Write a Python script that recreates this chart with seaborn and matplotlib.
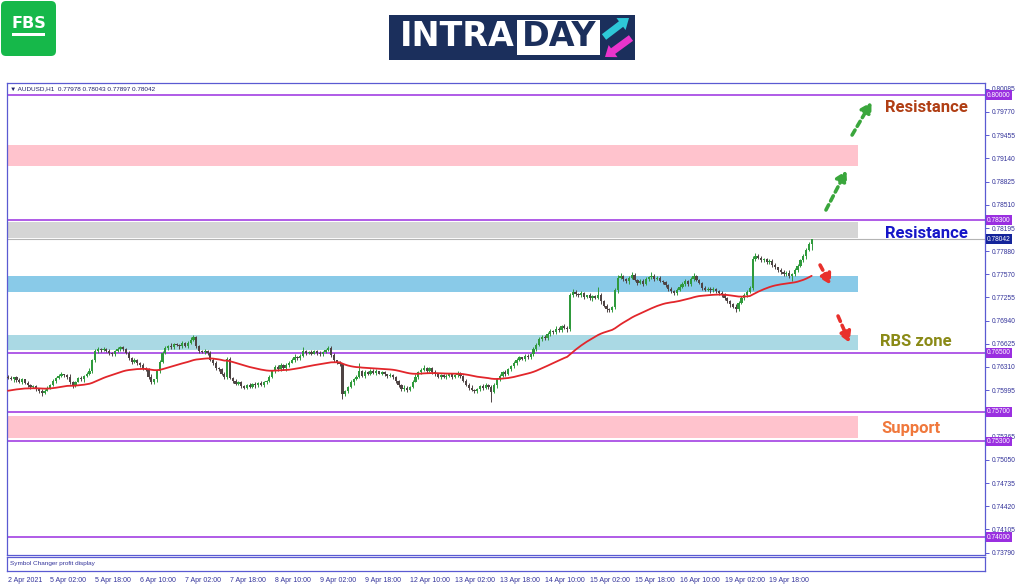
import numpy as np
import pandas as pd
import matplotlib
matplotlib.use('Agg')
import matplotlib.pyplot as plt
import matplotlib.transforms as mtransforms
from matplotlib.patches import FancyBboxPatch, Rectangle
import seaborn as sns

# AUDUSD H1 closes, in pips (x 0.0001)
closes = [
    7616, 7614, 7617, 7613, 7611, 7614, 7609, 7606, 7604, 7605,
    7601, 7598, 7596, 7599, 7603, 7607, 7612, 7616, 7619, 7621,
    7620, 7618, 7610, 7606, 7611, 7616, 7614, 7619, 7622, 7626,
    7640, 7652, 7656, 7654, 7655, 7653, 7650, 7648, 7652, 7655,
    7658, 7656, 7650, 7643, 7638, 7641, 7636, 7633, 7630, 7627,
    7618, 7610, 7614, 7625, 7638, 7650, 7657, 7660, 7658, 7662,
    7661, 7659, 7663, 7660, 7664, 7668, 7671, 7660, 7652, 7651,
    7653, 7650, 7641, 7636, 7630, 7628, 7622, 7617, 7642, 7616,
    7612, 7608, 7610, 7605, 7603, 7606, 7604, 7608, 7606, 7609,
    7607, 7610, 7612, 7618, 7625, 7631, 7628, 7634, 7629, 7633,
    7637, 7641, 7645, 7643, 7646, 7652, 7650, 7651, 7649, 7652,
    7650, 7648, 7651, 7654, 7657, 7647, 7640, 7637, 7635, 7594,
    7598, 7604, 7610, 7614, 7618, 7625, 7619, 7624, 7622, 7626,
    7623, 7625, 7622, 7624, 7621, 7619, 7620, 7617, 7612, 7606,
    7601, 7603, 7600, 7604, 7611, 7618, 7624, 7627, 7630, 7626,
    7629, 7624, 7621, 7618, 7620, 7617, 7619, 7621, 7618, 7620,
    7622, 7619, 7612, 7607, 7603, 7600, 7598, 7601, 7605, 7603,
    7607, 7604, 7597, 7606, 7614, 7619, 7624, 7622, 7628, 7632,
    7636, 7641, 7644, 7642, 7646, 7644, 7648, 7655, 7661, 7669,
    7672, 7670, 7676, 7680, 7678, 7683, 7681, 7686, 7684, 7682,
    7728, 7733, 7730, 7728, 7731, 7726, 7728, 7724, 7727, 7725,
    7729, 7720, 7714, 7710, 7708, 7712, 7735, 7752, 7754, 7750,
    7747, 7752, 7756, 7749, 7745, 7748, 7744, 7750, 7753, 7755,
    7751, 7752, 7748, 7746, 7742, 7737, 7734, 7731, 7736, 7740,
    7744, 7747, 7743, 7750, 7754, 7749, 7745, 7738, 7736, 7737,
    7735, 7737, 7734, 7732, 7728, 7725, 7720, 7716, 7713, 7710,
    7718, 7724, 7729, 7733, 7738, 7778, 7782, 7779, 7776, 7777,
    7773, 7775, 7770, 7766, 7762, 7760, 7757, 7759, 7755, 7757,
    7763, 7768, 7776, 7781, 7790, 7797.8, 7804.2,
]
# wick lengths above / below each body, in pips
wick_hi = [
    2, 3, 1, 2, 3, 2, 1, 3, 2, 1,  2, 1, 3, 2, 2, 1, 3, 2, 2, 3,
    1, 2, 3, 2, 1, 2, 3, 1, 2, 3,  2, 3, 2, 1, 3, 2, 2, 1, 2, 3,
    2, 2, 1, 3, 2, 2, 1, 2, 3, 1,  2, 3, 1, 2, 2, 3, 2, 1, 3, 2,
    2, 1, 3, 2, 2, 3, 3, 2, 1, 2,  3, 1, 2, 2, 3, 1, 2, 2, 2, 2,
    1, 3, 2, 2, 1, 2, 3, 1, 2, 2,  3, 2, 1, 2, 2, 3, 2, 2, 1, 3,
    2, 2, 3, 1, 2, 6, 2, 1, 3, 2,  2, 3, 1, 2, 2, 2, 3, 1, 2, 2,
    2, 1, 3, 2, 2, 11, 2, 3, 1, 2, 2, 3, 1, 2, 2, 1, 3, 2, 2, 1,
    2, 3, 2, 1, 2, 3, 2, 2, 3, 1,  2, 2, 3, 1, 2, 2, 3, 1, 2, 2,
    3, 2, 1, 2, 2, 3, 1, 2, 2, 3,  2, 1, 2, 3, 2, 2, 1, 3, 2, 2,
    3, 2, 2, 1, 3, 2, 2, 3, 2, 3,  2, 2, 3, 2, 1, 3, 2, 2, 3, 2,
    3, 4, 2, 2, 3, 2, 1, 3, 2, 2,  11, 2, 2, 3, 1, 2, 3, 4, 5, 2,
    2, 3, 4, 2, 2, 3, 2, 3, 2, 5,  2, 3, 2, 1, 2, 2, 3, 2, 2, 3,
    2, 3, 2, 3, 4, 2, 2, 1, 3, 2,  2, 3, 1, 2, 2, 3, 1, 2, 2, 3,
    2, 3, 2, 2, 3, 4, 3, 2, 3, 2,  2, 3, 2, 2, 1, 3, 2, 2, 3, 2,
    2, 3, 2, 3, 2, 3, 0.1,
]
wick_lo = [
    2, 1, 3, 2, 2, 3, 1, 2, 3, 2,  3, 2, 4, 2, 1, 2, 2, 3, 1, 2,
    2, 3, 2, 3, 2, 1, 2, 3, 2, 2,  3, 2, 2, 3, 1, 2, 3, 2, 2, 1,
    2, 3, 2, 2, 3, 1, 2, 2, 3, 2,  3, 2, 2, 3, 2, 1, 2, 3, 2, 2,
    1, 3, 2, 2, 3, 2, 2, 3, 2, 1,  2, 3, 2, 2, 3, 2, 2, 3, 2, 2,
    3, 2, 2, 3, 2, 2, 1, 2, 3, 2,  2, 3, 2, 1, 2, 2, 3, 2, 2, 3,
    2, 1, 3, 2, 2, 2, 3, 2, 2, 1,  3, 2, 2, 1, 2, 3, 2, 2, 3, 6,
    3, 2, 2, 3, 1, 2, 2, 3, 2, 2,  2, 3, 1, 2, 2, 3, 2, 2, 3, 2,
    3, 2, 3, 2, 2, 1, 3, 2, 2, 3,  2, 3, 2, 2, 3, 1, 2, 2, 3, 2,
    2, 3, 2, 2, 3, 2, 3, 2, 2, 3,  2, 3, 14, 2, 3, 2, 2, 3, 2, 2,
    2, 3, 2, 2, 3, 2, 2, 2, 3, 2,  3, 2, 2, 3, 2, 2, 3, 2, 2, 3,
    2, 2, 3, 2, 2, 3, 2, 2, 3, 2,  2, 3, 2, 4, 3, 2, 2, 3, 2, 3,
    2, 3, 2, 2, 3, 2, 3, 2, 2, 2,  3, 2, 2, 3, 2, 3, 2, 3, 2, 2,
    2, 3, 2, 2, 3, 2, 2, 3, 2, 2,  3, 2, 2, 3, 2, 3, 2, 3, 2, 4,
    3, 2, 2, 3, 2, 2, 3, 2, 2, 3,  2, 2, 3, 2, 2, 3, 2, 2, 3, 7,
    2, 3, 2, 2, 3, 2, 8.1,
]
first_open = 7618
ma_seed = 7598   # MA level at the left edge
ma_span = 50

tick_pos = [0, 15, 31, 47, 63, 79, 95, 111, 127, 143, 159, 175, 191, 207, 223, 239, 255, 271]
tick_labels = ['2 Apr 2021', '5 Apr 02:00', '5 Apr 18:00', '6 Apr 10:00', '7 Apr 02:00',
               '7 Apr 18:00', '8 Apr 10:00', '9 Apr 02:00', '9 Apr 18:00', '12 Apr 10:00',
               '13 Apr 02:00', '13 Apr 18:00', '14 Apr 10:00', '15 Apr 02:00', '15 Apr 18:00',
               '16 Apr 10:00', '19 Apr 02:00', '19 Apr 18:00']

price_ticks = [0.80085, 0.79770, 0.79455, 0.79140, 0.78825, 0.78510, 0.78195, 0.77880,
               0.77570, 0.77255, 0.76940, 0.76625, 0.76310, 0.75995, 0.75365, 0.75050,
               0.74735, 0.74420, 0.74105, 0.73790]
key_levels = [0.80000, 0.78300, 0.76500, 0.75700, 0.75300, 0.74000]
last_price = 0.78042

zone_low = [0.7904, 0.7806, 0.7733, 0.7654, 0.7534]
zone_high = [0.7932, 0.7827, 0.7754, 0.7675, 0.7564]
zone_colors = ['#ffc3cd', '#d5d5d5', '#89cae8', '#aad9e4', '#ffc3cd']
zone_end = 302.5

# OHLC frame
df = pd.DataFrame({'close': np.array(closes) / 1e4})
df['open'] = df['close'].shift(1).fillna(first_open / 1e4)
df['high'] = df[['open', 'close']].max(axis=1) + np.array(wick_hi) / 1e4
df['low'] = df[['open', 'close']].min(axis=1) - np.array(wick_lo) / 1e4
df['bar'] = np.arange(len(df))
seeded = pd.concat([pd.Series([ma_seed / 1e4]), df['close']], ignore_index=True)
df['ma'] = seeded.ewm(span=ma_span, adjust=False).mean().iloc[1:].values

sns.set_style('white')
plt.rcParams['font.family'] = ['Liberation Sans', 'DejaVu Sans']

frame = '#5a5ad2'
tick_text = '#33339a'
purple = '#9a2fe0'

fig = plt.figure(figsize=(10.24, 5.87), dpi=100)
ax = fig.add_axes([7 / 1024, 1 - 555 / 587, 978 / 1024, 472 / 587])
ax2 = fig.add_axes([7 / 1024, 1 - 571 / 587, 978 / 1024, 14 / 587])

xlim = (-0.36, 347.7)
ax.set_xlim(*xlim)
ax.set_ylim(0.73758, 0.80163)

# zones
for lo, hi, c in zip(zone_low, zone_high, zone_colors):
    ax.fill_between([xlim[0], zone_end], lo, hi, color=c, lw=0, zorder=1)

# key levels + current price line
for lvl in key_levels:
    ax.axhline(lvl, color=purple, lw=1.1, zorder=2)
ax.axhline(last_price, color='#b4b4b4', lw=0.8, zorder=2)

# candles
bull = df['close'] >= df['open']
colors = np.where(bull, '#2f9a3c', '#4f4444')
ax.vlines(df['bar'], df['low'], df['high'], colors=colors, lw=0.7, zorder=3)
ax.bar(df['bar'], (df['close'] - df['open']).abs(), bottom=df[['open', 'close']].min(axis=1),
       width=0.8, color=colors, lw=0, zorder=4)

# moving average
sns.lineplot(data=df, x='bar', y='ma', ax=ax, color='#e2262b', lw=1.3, zorder=5, legend=False)

# axes styling
for a in (ax, ax2):
    for s in a.spines.values():
        s.set_color(frame)
        s.set_linewidth(0.9)
    a.set_xlabel('')
    a.set_ylabel('')
ax.set_xticks([])
ax.yaxis.tick_right()
ax.set_yticks(price_ticks)
ax.set_yticklabels([f'{p:.5f}' for p in price_ticks])
ax.tick_params(axis='y', colors=frame, labelcolor=tick_text, labelsize=4.8, length=3, width=0.7, pad=1.5)

ax2.set_xlim(*xlim)
ax2.set_ylim(0, 1)
ax2.set_yticks([])
ax2.set_xticks(tick_pos)
ax2.set_xticklabels(tick_labels)
ax2.tick_params(axis='x', colors=frame, labelcolor=tick_text, labelsize=5, length=3, width=0.7, pad=1.5)
plt.setp(ax2.get_xticklabels(), ha='left')
ax2.text(0.003, 0.5, 'Symbol Changer profit display', transform=ax2.transAxes,
         fontsize=4.6, color=tick_text, va='center', ha='left')

# price tags on the right axis
tr = mtransforms.blended_transform_factory(ax.transAxes, ax.transData)
for lvl in key_levels:
    ax.text(1.002, lvl, f'{lvl:.5f}', transform=tr, fontsize=4.8, color='white', va='center',
            ha='left', clip_on=False, zorder=10,
            bbox=dict(boxstyle='square,pad=0.2', fc=purple, ec='none'))
ax.text(1.002, last_price, f'{last_price:.5f}', transform=tr, fontsize=4.8, color='white',
        va='center', ha='left', clip_on=False, zorder=10,
        bbox=dict(boxstyle='square,pad=0.2', fc='#14249a', ec='none'))

ax.text(0.003, 0.987, '\u25bc AUDUSD,H1  0.77978 0.78043 0.77897 0.78042', transform=ax.transAxes,
        fontsize=4.6, color='#20206a', va='center', ha='left', family=['Liberation Sans', 'DejaVu Sans'])

# annotations
lab = dict(fontsize=12, fontweight='bold', family='Roboto', ha='center', va='center', zorder=11)
ax.text(326.7, 0.79837, 'Resistance', color='#b03e14', **lab)
ax.text(326.7, 0.78127, 'Resistance', color='#1616c8', **lab)
ax.text(323.2, 0.76650, 'RBS zone', color='#8a8a16', **lab)
ax.text(321.5, 0.75480, 'Support', color='#f0783c', **lab)

arrows = [((291.1, 0.78440), (298.4, 0.78975), '#3aa63c'),
          ((300.4, 0.79457), (307.3, 0.79905), '#3aa63c'),
          ((289.0, 0.77693), (292.8, 0.77425), '#e8302c'),
          ((295.4, 0.77001), (299.5, 0.76640), '#e8302c')]
for start, end, c in arrows:
    ax.annotate('', xy=end, xytext=start, zorder=11,
                arrowprops=dict(arrowstyle='-|>,head_length=0.6,head_width=0.35', color=c,
                                lw=2.6, linestyle=(0, (1.6, 1.2)), shrinkA=0, shrinkB=0))

# header logos (pixel space)
hx = fig.add_axes([0, 0, 1, 1], zorder=-1)
hx.set_xlim(0, 1024)
hx.set_ylim(587, 0)
hx.axis('off')
hx.add_patch(FancyBboxPatch((1, 1), 55, 55, boxstyle='round,pad=0,rounding_size=5',
                            fc='#16b84a', ec='none'))
hx.text(28.5, 23, 'FBS', color='white', fontsize=11.5, fontweight='bold', family='DejaVu Sans',
        ha='center', va='center')
hx.add_patch(Rectangle((12, 33), 33, 2.5, fc='white', ec='none'))

hx.add_patch(Rectangle((389, 15), 246, 45, fc='#1b2f5c', ec='none'))
hx.add_patch(Rectangle((517, 20), 83, 35, fc='white', ec='none'))
hx.text(457, 36, 'INTRA', color='white', fontsize=24, fontweight='bold', family='DejaVu Sans',
        ha='center', va='center')
hx.text(559, 37, 'DAY', color='#1b2f5c', fontsize=24, fontweight='bold', family='DejaVu Sans',
        ha='center', va='center')
hx.arrow(604, 37, 25, -19, width=7, head_width=15, head_length=10, fc='#2ec8d8', ec='none',
         length_includes_head=True)
hx.arrow(631, 38, -26, 19, width=7, head_width=15, head_length=10, fc='#ea34cc', ec='none',
         length_includes_head=True)

fig.savefig('out.png', dpi=100, facecolor='white')
